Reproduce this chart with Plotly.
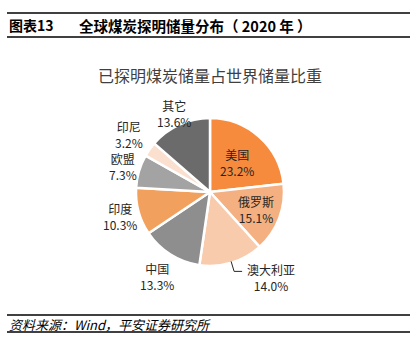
import math
import plotly.graph_objects as go

countries = ["美国", "俄罗斯", "澳大利亚", "中国", "印度", "欧盟", "印尼", "其它"]
shares = [23.2, 15.1, 14.0, 13.3, 10.3, 7.3, 3.2, 13.6]

# styling / label placement (not data)
colors = ["#F68B3E", "#F4B080", "#F8CBAD", "#8E8E8E", "#F2A05E", "#A3A3A3", "#FBE0CF", "#6B6B6B"]
label_dist = [0.54, 0.66, None, 1.35, 1.26, 1.23, 1.34, 1.16]  # fraction of radius; None = leader line

W, H = 411, 352
FONT = "Noto Sans CJK SC"
PCX, PCY, R = 210, 192, 74  # pie centre / radius in pixels

cx, cy = PCX / W, 1 - PCY / H
hw, hh = R / W, R / H

fig = go.Figure(go.Pie(
    labels=countries,
    values=shares,
    sort=False,
    direction="clockwise",
    rotation=0,
    marker=dict(colors=colors, line=dict(color="white", width=2.5)),
    textinfo="none",
    showlegend=False,
    hoverinfo="label+value",
    domain=dict(x=[cx - hw, cx + hw], y=[cy - hh, cy + hh]),
))

total = sum(shares)
cum = 0.0
for name, v, k in zip(countries, shares, label_dist):
    mid = (cum + v / 2) / total * 2 * math.pi
    cum += v
    dx, dy = math.sin(mid), -math.cos(mid)
    txt = f"{name}<br>{v:.1f}%"
    if k is not None:
        px, py = PCX + dx * R * k, PCY + dy * R * k
        fig.add_annotation(text=txt, x=px / W, y=1 - py / H, xref="paper", yref="paper",
                           xanchor="center", yanchor="middle", showarrow=False,
                           font=dict(family=FONT, size=12, color="#262626"))
    else:
        sx, sy = PCX + dx * R * 0.98, PCY + dy * R * 0.98
        ex, ey = sx + 3, sy + 10
        fx = ex + 8
        fig.add_shape(type="path", xref="paper", yref="paper",
                      path=f"M {sx / W} {1 - sy / H} L {ex / W} {1 - ey / H} L {fx / W} {1 - ey / H}",
                      line=dict(color="#262626", width=1))
        fig.add_annotation(text=txt, x=(fx + 3) / W, y=1 - (ey + 6) / H, xref="paper", yref="paper",
                           xanchor="left", yanchor="middle", showarrow=False,
                           font=dict(family=FONT, size=12, color="#262626"))

fig.add_annotation(text="<b>图表13</b>", x=7 / W, y=1 - 25 / H,
                   xref="paper", yref="paper", xanchor="left", yanchor="middle", showarrow=False,
                   font=dict(family=FONT, size=14, color="#000000"))
fig.add_annotation(text="<b>全球煤炭探明储量分布（ 2020 年 ）</b>", x=77 / W, y=1 - 25 / H,
                   xref="paper", yref="paper", xanchor="left", yanchor="middle", showarrow=False,
                   font=dict(family=FONT, size=14.5, color="#000000"))
fig.add_annotation(text="已探明煤炭储量占世界储量比重", x=210 / W, y=1 - 75 / H,
                   xref="paper", yref="paper", xanchor="center", yanchor="middle", showarrow=False,
                   font=dict(family=FONT, size=16, color="#404040"))
fig.add_annotation(text="<i>资料来源：Wind，平安证券研究所</i>", x=7 / W, y=1 - 324 / H,
                   xref="paper", yref="paper", xanchor="left", yanchor="middle", showarrow=False,
                   font=dict(family=FONT, size=13, color="#000000"))

for yy in (13, 37, 315, 332):
    fig.add_shape(type="line", xref="paper", yref="paper", x0=7 / W, x1=410 / W,
                  y0=1 - yy / H, y1=1 - yy / H, line=dict(color="#000000", width=1.5))

fig.update_layout(width=W, height=H, margin=dict(l=0, r=0, t=0, b=0),
                  paper_bgcolor="white", plot_bgcolor="white")
fig.write_html("out.html")
